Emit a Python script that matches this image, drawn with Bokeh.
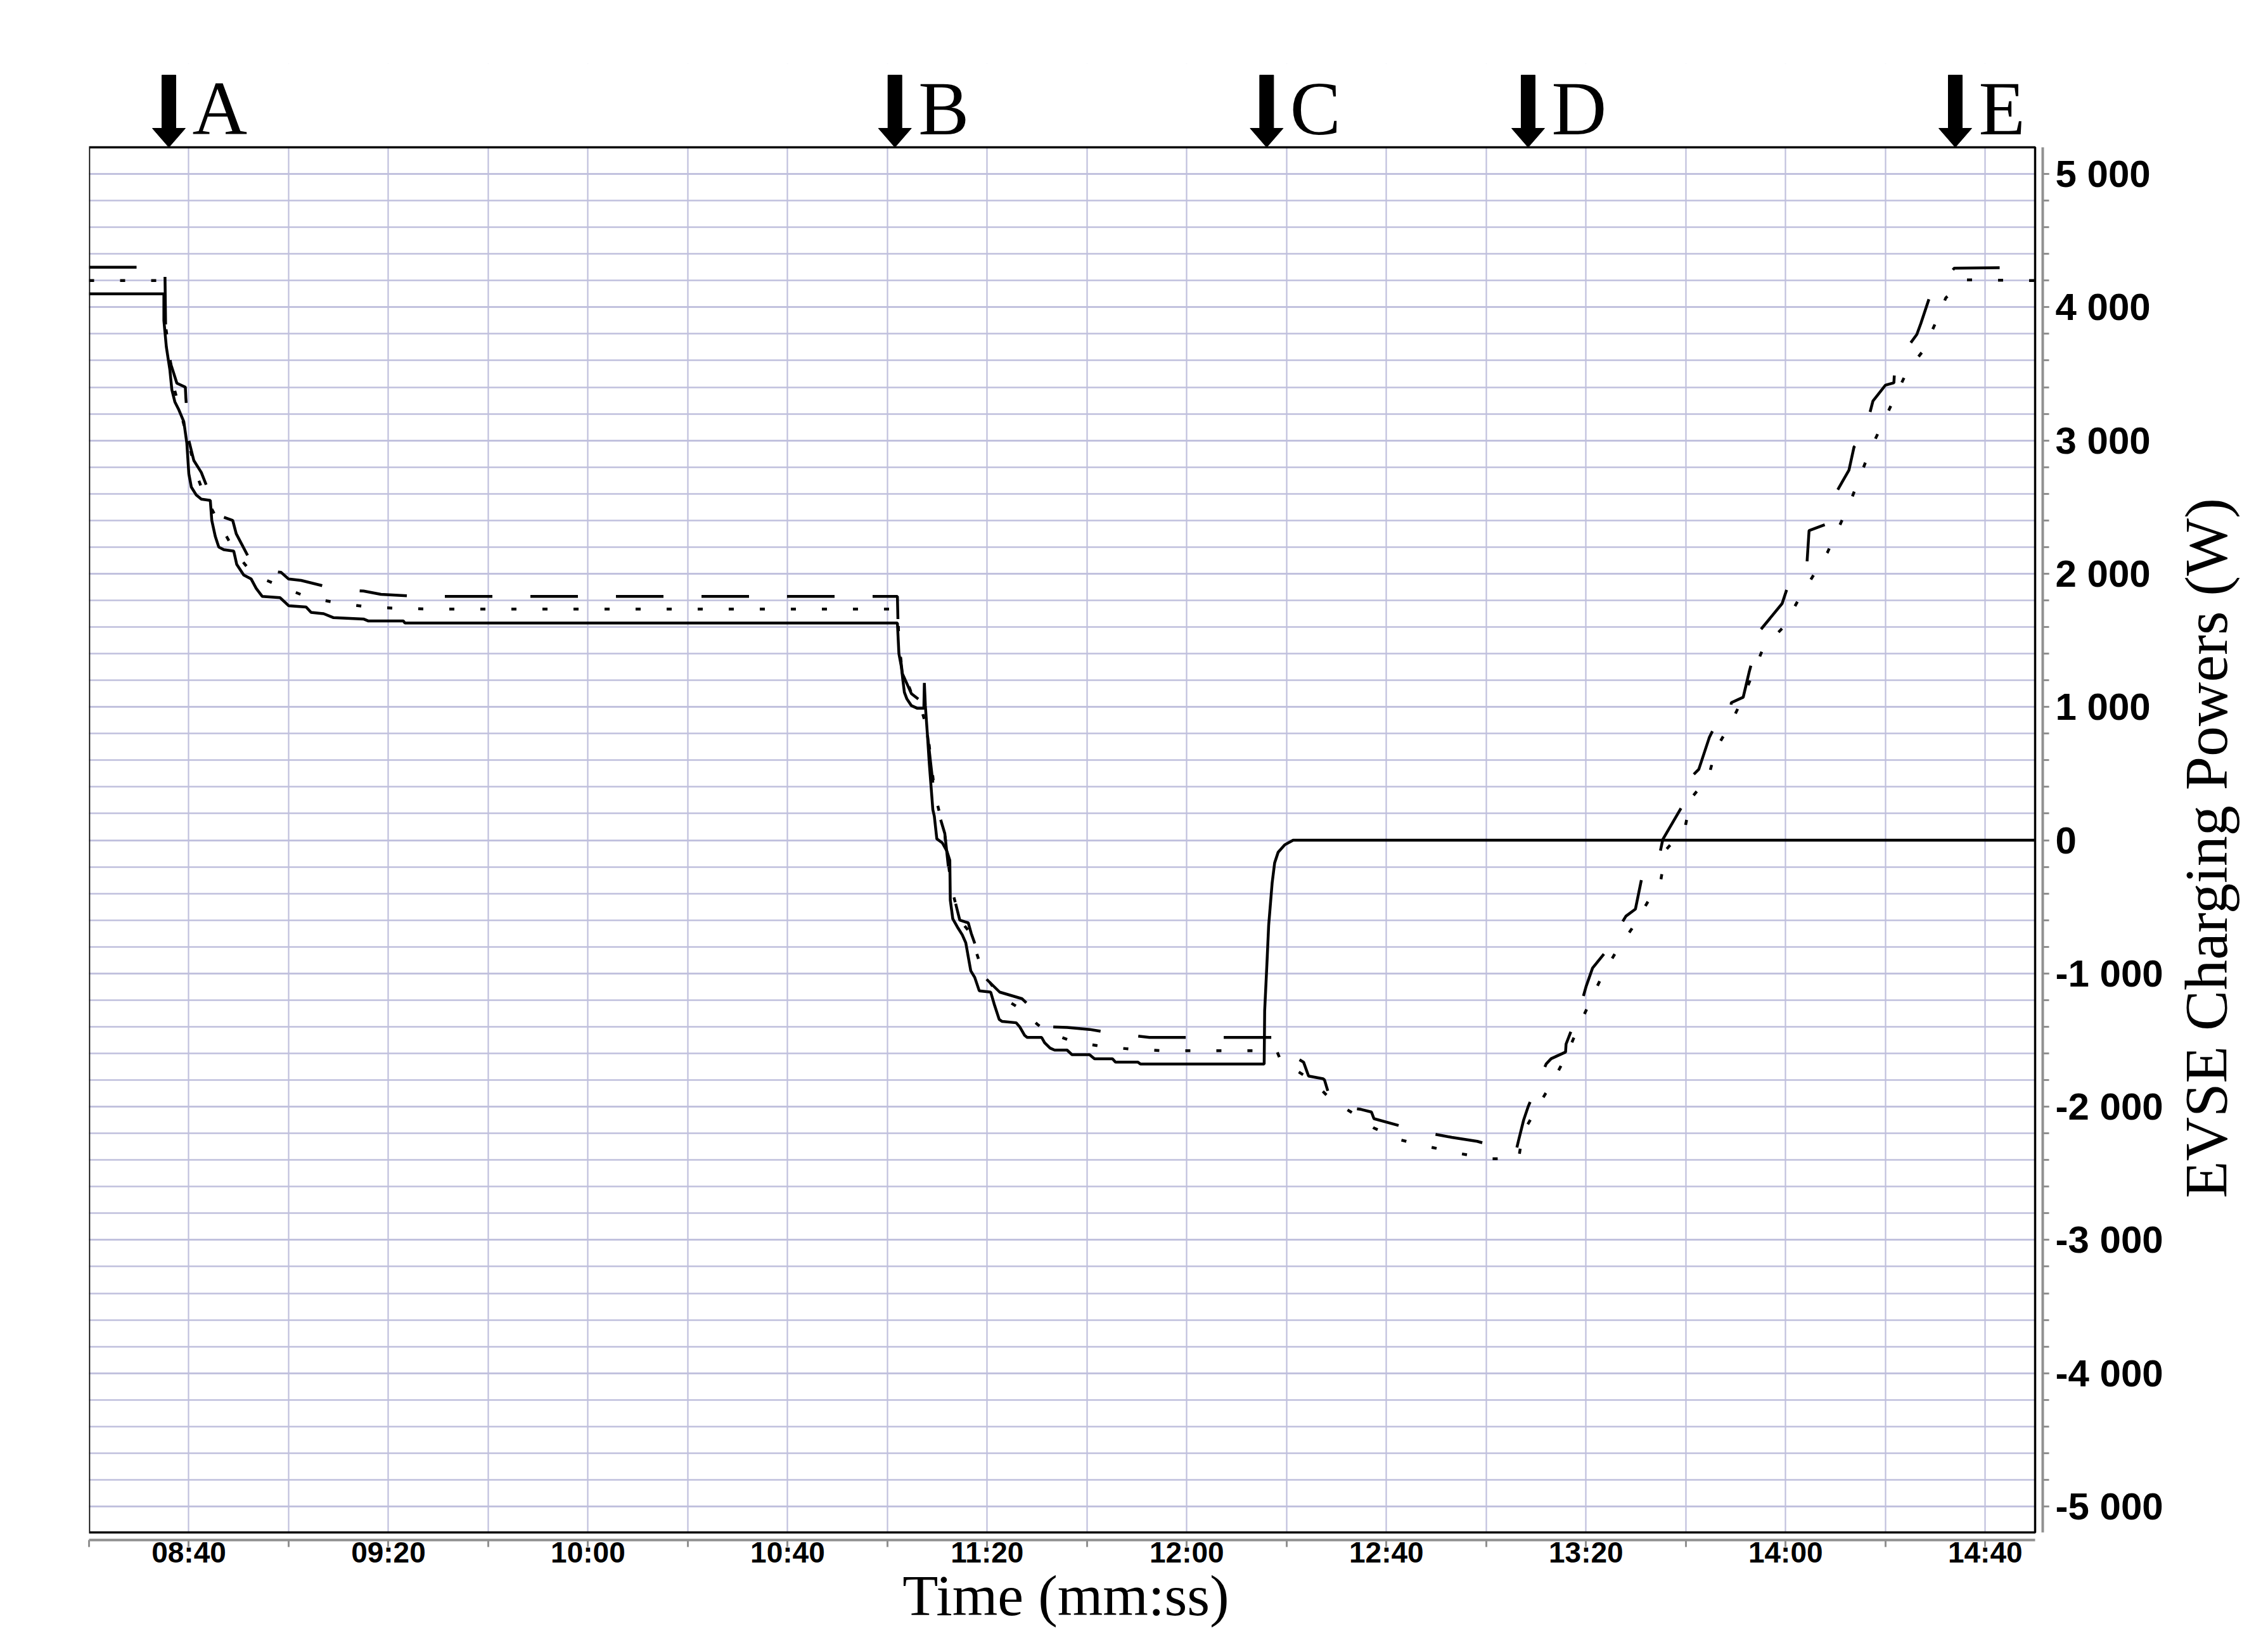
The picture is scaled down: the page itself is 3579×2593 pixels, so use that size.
import math
from bokeh.plotting import figure
from bokeh.layouts import row
from bokeh.models import Range1d, FixedTicker
from bokeh.embed import file_html
from bokeh.resources import INLINE
from bokeh.core.properties import value

# ---------------- data (time in seconds, power in W) ----------------
solid_t = [500, 515.0, 515.0, 515.5, 516.2, 516.6, 517.2, 518.0, 519.0, 519.6,
           520.0, 520.5, 521.5, 522.5, 524.3, 524.6, 525.3, 526.0, 527.0, 529.0,
           529.6, 531.0, 532.5, 533.5, 534.7, 538.3, 540.0, 543.5, 544.5, 547.0,
           549.0, 555.0, 556.0, 563.0, 563.3, 662.0, 662.3, 662.8, 663.1, 663.4,
           663.9, 664.8, 666.0, 667.3, 667.4, 667.6, 668.0, 668.4, 669.1, 669.4,
           669.9, 671.0, 671.9, 672.5, 672.6, 673.1, 674.0, 675.0, 675.7, 676.7,
           677.5, 678.4, 680.7, 681.4, 682.4, 683.0, 685.8, 686.5, 687.5, 688.0,
           690.9, 691.5, 692.6, 693.5, 696.0, 697.0, 700.5, 701.5, 705.1, 705.7,
           710.2, 710.7, 735.5, 735.6, 736.1, 736.4, 737.1, 737.6, 738.3, 739.6,
           741.3, 890]
solid_w = [4100, 4100, 3900, 3700, 3530, 3380, 3290, 3230, 3140, 2980,
           2750, 2650, 2590, 2560, 2550, 2400, 2280, 2200, 2180, 2170,
           2070, 1990, 1960, 1890, 1830, 1820, 1760, 1750, 1710, 1700,
           1670, 1660, 1645, 1645, 1630, 1630, 1400, 1300, 1200, 1110,
           1060, 1010, 990, 990, 1180, 1010, 800, 570, 230, 180,
           10, -20, -80, -150, -450, -590, -650, -710, -770, -980,
           -1030, -1130, -1140, -1230, -1345, -1360, -1370, -1400, -1465, -1480,
           -1480, -1520, -1560, -1575, -1575, -1610, -1610, -1640, -1640, -1665,
           -1665, -1680, -1680, -1280, -890, -640, -320, -170, -90, -35,
           0, 0]

dashed_t = [500, 515.2, 515.4, 516.5, 517.6, 519.3, 519.4, 520.0, 521.0, 522.5,
            524.6, 526.5, 528.8, 529.5, 533.0, 534.5, 538.5, 540.0, 542.5, 550.0,
            555.0, 558.5, 566.0, 662.0, 662.2, 663.0, 664.8, 666.5, 668.0, 669.5,
            671.5, 672.5, 673.3, 674.5, 676.2, 676.8, 678.5, 679.5, 682.5, 687.0,
            689.5, 692.0, 696.0, 700.5, 704.5, 712.5, 738.1, 740.5, 743.4, 744.4,
            747.3, 747.6, 748.8, 751.0, 754.9, 757.0, 757.5, 762.4, 766.0, 770.2,
            773.1, 778.2, 782.0, 786.0, 786.5, 787.5, 788.4, 791.1, 792.0, 793.0,
            795.9, 796.0, 798.8, 800.0, 801.3, 805.6, 806.5, 808.0, 809.9, 811.5,
            814.5, 815.4, 819.4, 820.0, 822.6, 824.7, 826.4, 829.0, 829.1, 831.5,
            832.7, 835.0, 839.3, 840.8, 844.2, 844.7, 848.0, 849.1, 852.7, 853.7,
            855.8, 857.5, 860.0, 861.7, 861.9, 866.3, 867.1, 868.8, 873.8, 890]
dashed_w = [4300, 4300, 3700, 3560, 3430, 3400, 3320, 3000, 2850, 2760,
            2560, 2430, 2400, 2300, 2050, 2030, 2010, 1960, 1950, 1880,
            1870, 1845, 1830, 1830, 1500, 1250, 1100, 1050, 800, 300,
            50, -300, -420, -600, -620, -700, -880, -1030, -1140, -1190,
            -1280, -1400, -1405, -1420, -1445, -1480, -1480, -1600, -1666, -1770,
            -1790, -1800, -1950, -2000, -2020, -2040, -2090, -2140, -2180, -2210,
            -2230, -2260, -2300, -2330, -2250, -2100, -2000, -1760, -1680, -1640,
            -1590, -1530, -1260, -1100, -960, -760, -663, -570, -517, -224,
            -151, 7, 263, 434, 532, 770, 898, 922, 1032, 1073,
            1263, 1580, 1776, 1946, 2035, 2324, 2370, 2542, 2778, 2950,
            3050, 3296, 3415, 3433, 3570, 3796, 3878, 4070, 4293, 4300]

dotted_t = [500, 515.1, 515.2, 517.0, 519.5, 521.5, 523.0, 526.5, 529.5, 533.0,
            538.5, 544.0, 550.0, 556.0, 562.0, 568.0, 662.1, 662.3, 663.0, 664.8,
            666.5, 668.0, 669.5, 671.5, 672.8, 674.5, 676.5, 678.5, 679.8, 682.5,
            686.0, 690.0, 692.0, 697.5, 703.5, 708.0, 715.0, 738.0, 739.1, 740.3,
            745.0, 749.0, 752.9, 757.5, 762.9, 768.5, 774.5, 780.6, 786.5, 787.3,
            790.8, 793.5, 796.0, 798.5, 803.3, 806.0, 809.2, 815.0, 816.0, 819.8,
            821.0, 824.5, 826.1, 828.9, 831.5, 835.5, 839.7, 842.5, 848.4, 852.9,
            857.0, 861.9, 864.4, 867.5, 870.0, 872.1, 876.0, 890]
dotted_w = [4200, 4200, 3900, 3400, 3050, 2750, 2600, 2350, 2150, 1990,
            1905, 1820, 1780, 1750, 1740, 1735, 1735, 1450, 1280, 1107,
            1020, 830, 350, 40, -350, -600, -690, -920, -1030, -1170,
            -1250, -1380, -1440, -1515, -1550, -1565, -1580, -1580, -1677, -1690,
            -1800, -1950, -2040, -2160, -2250, -2300, -2350, -2390, -2390, -2200,
            -1970, -1800, -1620, -1400, -1012, -839, -663, -298, -73, 85,
            312, 471, 690, 868, 1073, 1441, 1605, 1800, 2161, 2533,
            2933, 3324, 3524, 3670, 3878, 4070, 4205, 4200]

event_labels = ["A", "B", "C", "D", "E"]
event_t = [516.0, 661.5, 736.0, 788.4, 874.0]

x_tick_values = [500, 520, 540, 560, 580, 600, 620, 640, 660, 680,
                 700, 720, 740, 760, 780, 800, 820, 840, 860, 880]
x_tick_labels = ["", "08:40", "", "09:20", "", "10:00", "", "10:40", "", "11:20",
                 "", "12:00", "", "12:40", "", "13:20", "", "14:00", "", "14:40"]
y_tick_values = [5000, 4000, 3000, 2000, 1000, 0, -1000, -2000, -3000, -4000, -5000]
y_tick_labels = ["5 000", "4 000", "3 000", "2 000", "1 000", "0",
                 "-1 000", "-2 000", "-3 000", "-4 000", "-5 000"]
y_minor_values = list(range(-5000, 5001, 200))

x_label = "Time (mm:ss)"
y_label = "EVSE Charging Powers (W)"

# ---------------- layout constants ----------------
X0, X1 = 500, 890          # plot box, seconds
Y0, Y1 = -5195, 5200       # plot box, W
PX_S = 7.875               # px per second
PX_W = 0.2103              # px per W
AX_GAP = 12                # px between box and axis lines
TOP_SPACE = 132            # px above box for the arrows
LEFT_B, TOP_B, RIGHT_B = 140, 100, 200

x_end = X1 + AX_GAP / PX_S
y_start = Y0 - AX_GAP / PX_W
y_end = Y1 + TOP_SPACE / PX_W
frame_w = round((x_end - X0) * PX_S)
frame_h = round((y_end - y_start) * PX_W)

GRID = "#c0c0dd"
AXC = "#909090"

p = figure(frame_width=frame_w, frame_height=frame_h,
           x_range=Range1d(X0, x_end), y_range=Range1d(y_start, y_end),
           output_backend="svg", toolbar_location=None, y_axis_location="right",
           min_border_left=LEFT_B, min_border_top=TOP_B, min_border_right=RIGHT_B,
           min_border_bottom=150)
p.outline_line_color = None
p.background_fill_color = "white"
p.border_fill_color = "white"

# x axis
xt = FixedTicker(ticks=x_tick_values)
p.xaxis.ticker = xt
p.xaxis.bounds = (X0, X1)
p.xaxis.major_label_overrides = {v: s for v, s in zip(x_tick_values, x_tick_labels)}
p.xaxis.axis_line_color = AXC
p.xaxis.axis_line_width = 4
p.xaxis.major_tick_line_color = AXC
p.xaxis.major_tick_line_width = 3
p.xaxis.major_tick_out = 11
p.xaxis.major_tick_in = 0
p.xaxis.minor_tick_line_color = None
p.xaxis.major_label_standoff = -18
p.xaxis.major_label_text_font = "Liberation Sans"
p.xaxis.major_label_text_font_style = "bold"
p.xaxis.major_label_text_font_size = "46px"
p.xaxis.major_label_text_color = "black"
p.xaxis.axis_label = x_label
p.xaxis.axis_label_text_font = "Liberation Serif"
p.xaxis.axis_label_text_font_style = "normal"
p.xaxis.axis_label_text_font_size = "92px"
p.xaxis.axis_label_text_color = "black"
p.xaxis.axis_label_standoff = -12

# y axis (right)
yt = FixedTicker(ticks=y_tick_values, minor_ticks=y_minor_values)
p.yaxis.ticker = yt
p.yaxis.bounds = (Y0, Y1)
p.yaxis.major_label_overrides = {v: s for v, s in zip(y_tick_values, y_tick_labels)}
p.yaxis.axis_line_color = AXC
p.yaxis.axis_line_width = 4
p.yaxis.major_tick_line_color = AXC
p.yaxis.minor_tick_line_color = AXC
p.yaxis.major_tick_line_width = 3
p.yaxis.minor_tick_line_width = 3
p.yaxis.major_tick_out = 10
p.yaxis.minor_tick_out = 10
p.yaxis.major_tick_in = 0
p.yaxis.minor_tick_in = 0
p.yaxis.major_label_standoff = 10
p.yaxis.major_label_text_font = "Liberation Sans"
p.yaxis.major_label_text_font_style = "bold"
p.yaxis.major_label_text_font_size = "60px"
p.yaxis.major_label_text_color = "black"

# grids
p.xgrid.ticker = xt
p.xgrid.grid_line_color = GRID
p.xgrid.grid_line_width = 2.2
p.ygrid.ticker = yt
p.ygrid.grid_line_color = GRID
p.ygrid.grid_line_width = 2.6
p.ygrid.minor_grid_line_color = GRID
p.ygrid.minor_grid_line_width = 2.6

# white covers outside the box (hide grid lines there)
far_l = X0 - 50
far_r = x_end + 50
p.quad(left=[far_l, far_l, X1], right=[far_r, far_r, far_r],
       bottom=[Y1, y_start - 500, y_start - 500], top=[y_end + 500, Y0, y_end + 500],
       fill_color="white", line_color=None)

# data lines
p.line(solid_t, solid_w, line_color="black", line_width=4.5)
p.line(dashed_t, dashed_w, line_color="black", line_width=4.5, line_dash="75 60")
p.line(dotted_t, dotted_w, line_color="black", line_width=4.5, line_dash="8 41")

# plot box
p.quad(left=[X0], right=[X1], bottom=[Y0], top=[Y1], fill_color=None,
       line_color="black", line_width=3.5)

# event arrows
shaft_hw = 11 / PX_S
head_hw = 26 / PX_S
head_base = Y1 + 30 / PX_W
shaft_top = Y1 + 114 / PX_W
axs = [[t - shaft_hw, t + shaft_hw, t + shaft_hw, t + head_hw, t, t - head_hw, t - shaft_hw]
       for t in event_t]
ays = [[shaft_top, shaft_top, head_base, head_base, Y1, head_base, head_base]
       for _ in event_t]
p.patches(axs, ays, fill_color="black", line_color="black", line_width=1)
p.text(x=[t + 37 / PX_S for t in event_t], y=[Y1 + 61 / PX_W] * len(event_t),
       text=event_labels, text_font=value("Liberation Serif"), text_font_size="120px",
       text_baseline="middle", text_align="left", text_color="black")

# ---------------- side panel with the rotated y-axis title ----------------
SIDE_W, SIDE_H = 137, 2500
TITLE_X = 3481 - (LEFT_B + frame_w + RIGHT_B)   # x of title centre inside panel
TITLE_Y = 1238                                   # y of title centre from panel top
q = figure(frame_width=SIDE_W, frame_height=SIDE_H, x_range=Range1d(0, SIDE_W),
           y_range=Range1d(0, SIDE_H), x_axis_type=None, y_axis_type=None,
           output_backend="svg", toolbar_location=None,
           min_border_left=0, min_border_right=0, min_border_top=0, min_border_bottom=0)
q.outline_line_color = None
q.grid.visible = False
q.background_fill_color = "white"
q.border_fill_color = "white"
q.text(x=[TITLE_X], y=[SIDE_H - TITLE_Y], text=[y_label], angle=math.pi / 2,
       text_font=value("Liberation Serif"), text_font_size="96px",
       text_align="center", text_baseline="middle", text_color="black")

layout = row(p, q, spacing=0)
open("out.html", "w").write(file_html(layout, INLINE))
